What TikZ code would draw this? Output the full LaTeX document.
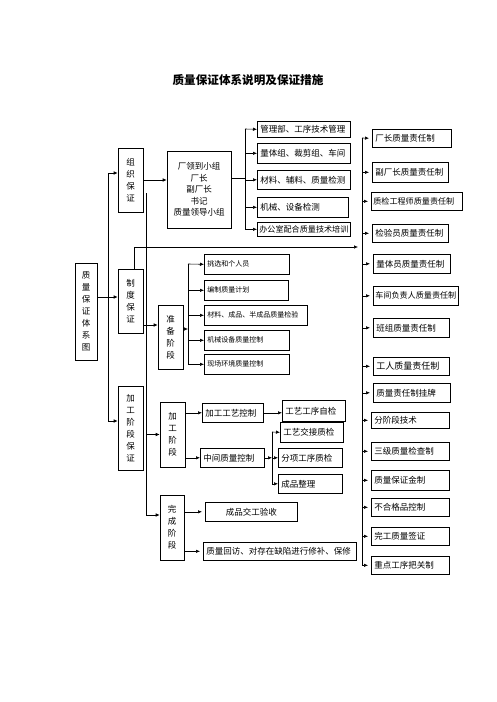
\documentclass[tikz,border=0pt]{standalone}
\usepackage{fontspec}
\setmainfont{Noto Sans CJK SC}
\usetikzlibrary{arrows.meta}

\begin{document}
\begin{tikzpicture}[
  x=1pt, y=-1pt,
  box/.style={draw, line width=0.6pt, inner ysep=0pt, font=\fontsize{8.5}{10}\selectfont},
  lbox/.style={box, anchor=north west, align=left, inner xsep=3pt},
  cbox/.style={box, anchor=north west, align=center, inner xsep=0pt},
  vbox/.style={box, align=center, inner xsep=0pt, font=\fontsize{8.5}{12}\selectfont},
  small/.style={font=\fontsize{7}{9}\selectfont},
  tight/.style={font=\fontsize{8.1}{10}\selectfont, inner xsep=2pt},
  line/.style={line width=0.6pt},
  arrow/.style={-{Latex[length=4pt,width=3.5pt]}, line width=0.6pt},
  rarrow/.style={arrow, shorten >=3pt}
]
  \useasboundingbox (0,0) rectangle (496,702);

  \node[font=\bfseries\fontsize{11.6}{12}\selectfont] (title) at (248,80) {质量保证体系说明及保证措施};

  \node[vbox, minimum width=22, minimum height=97] (tixi) at (86,311.5) {质\\量\\保\\证\\体\\系\\图};
  \node[vbox, minimum width=25, minimum height=64] (zuzhi) at (130.5,180) {组\\织\\保\\证};
  \node[vbox, minimum width=25, minimum height=64] (zhidu) at (130.5,301) {制\\度\\保\\证};
  \node[vbox, minimum width=25, minimum height=84] (jgbz) at (130.5,428) {加\\工\\阶\\段\\保\\证};

  \node[vbox, font=\fontsize{8.5}{11.5}\selectfont, minimum width=64, minimum height=77] (lingdao) at (199,189.5)
    {厂领到小组\\厂长\\副厂长\\书记\\质量领导小组};
  \node[vbox, minimum width=25, minimum height=64] (zhunbei) at (170.5,337) {准\\备\\阶\\段};
  \node[vbox, minimum width=25, minimum height=65] (jgjd) at (172.5,434.5) {加\\工\\阶\\段};
  \node[vbox, minimum width=24, minimum height=65] (wancheng) at (172,527.5) {完\\成\\阶\\段};

  \node[lbox, text width=87, minimum height=16] (g1) at (257,121) {管理部、工序技术管理};
  \node[lbox, text width=87, minimum height=20] (g2) at (257,143) {量体组、裁剪组、车间};
  \node[lbox, text width=87, minimum height=19] (g3) at (257,170) {材料、辅料、质量检测};
  \node[lbox, text width=85, minimum height=20] (g4) at (257,197) {机械、设备检测};
  \node[lbox, tight, text width=89, minimum height=14] (g5) at (257,222) {办公室配合质量技术培训};

  \node[lbox, small, text width=79, minimum height=20] (p1) at (204,254) {挑选和个人员};
  \node[lbox, small, text width=78, minimum height=20] (p2) at (204,280) {编制质量计划};
  \node[lbox, small, text width=97, minimum height=20] (p3) at (204,305) {材料、成品、半成品质量检验};
  \node[lbox, small, text width=79, minimum height=20] (p4) at (204,330) {机械设备质量控制};
  \node[lbox, small, text width=79, minimum height=20] (p5) at (204,354) {现场环境质量控制};

  \node[lbox, text width=55, minimum height=19] (k1) at (202,403) {加工工艺控制};
  \node[lbox, text width=58, minimum height=19] (k2) at (200,448) {中间质量控制};
  \node[lbox, text width=57, minimum height=21] (k3) at (282,400) {工艺工序自检};
  \node[lbox, text width=57, minimum height=20] (k4) at (280,422) {工艺交接质检};
  \node[lbox, text width=58, minimum height=19] (k5) at (278,448) {分项工序质检};
  \node[lbox, text width=58, minimum height=19] (k6) at (278,474) {成品整理};

  \node[cbox, text width=92, minimum height=19] (w1) at (205,502) {成品交工验收};
  \node[lbox, text width=147, minimum height=18] (w2) at (203,542) {质量回访、对存在缺陷进行修补、保修};

  \node[lbox, text width=73, minimum height=18] (r1) at (372,129) {厂长质量责任制};
  \node[lbox, text width=70, minimum height=20] (r2) at (372,162) {副厂长质量责任制};
  \node[lbox, tight, text width=87, minimum height=18] (r3) at (371,192) {质检工程师质量责任制};
  \node[lbox, text width=70, minimum height=18] (r4) at (372,224) {检验员质量责任制};
  \node[lbox, text width=71, minimum height=19] (r5) at (373,254) {量体员质量责任制};
  \node[lbox, tight, text width=81, minimum height=19] (r6) at (373,286) {车间负责人质量责任制};
  \node[lbox, text width=70, minimum height=19] (r7) at (373,318) {班组质量责任制};
  \node[lbox, text width=70, minimum height=18, font=\fontsize{9}{10}\selectfont] (r8) at (373,357) {工人质量责任制};
  \node[lbox, text width=71, minimum height=19] (r9) at (373,383) {质量责任制挂牌};
  \node[lbox, text width=72, minimum height=16] (r10) at (371,412) {分阶段技术};
  \node[lbox, text width=72, minimum height=18] (r11) at (371,442) {三级质量检查制};
  \node[lbox, text width=72, minimum height=20] (r12) at (371,470) {质量保证金制};
  \node[lbox, text width=72, minimum height=18] (r13) at (371,498) {不合格品控制};
  \node[lbox, text width=72, minimum height=18] (r14) at (371,527) {完工质量签证};
  \node[lbox, text width=72, minimum height=18] (r15) at (371,556) {重点工序把关制};

  \coordinate (lspine) at (108,173);
  \coordinate (lend) at (108,421);
  \coordinate (cspine) at (146,193);
  \coordinate (cend) at (146,515);
  \coordinate (gspine) at (245,129);
  \coordinate (pspine) at (188,264);
  \coordinate (kspine) at (272,432);
  \coordinate (rspine) at (362,138);
  \coordinate (zdin) at (362,247);

  \draw[line] (lspine) -- (lend);
  \draw[arrow] (lspine) -- (lspine -| zuzhi.west);
  \draw[arrow] (lend) -- (lend -| jgbz.west);
  \draw[arrow] ([yshift=14.5pt]tixi.east) -- ([yshift=14.5pt]tixi.east -| zhidu.west);

  \draw[arrow] (zuzhi.east) -- (zuzhi.east -| lingdao.west);
  \draw[line] ([yshift=11.5pt]lingdao.east) -- ([yshift=11.5pt]lingdao.east -| gspine);
  \draw[arrow] (gspine) |- (g5.west);
  \draw[arrow] (gspine) -- (g1.west);
  \draw[arrow] (gspine |- g2.west) -- (g2.west);
  \draw[arrow] (gspine |- g3.west) -- (g3.west);
  \draw[arrow] (gspine |- g4.west) -- (g4.west);

  \draw[line] (cspine) -- (cend);
  \draw[arrow] (cspine |- jgjd.west) -- (jgjd.west);
  \draw[arrow] (cend) -- (cend -| wancheng.west);

  \draw[rarrow, shorten >=4pt] ([xshift=3.5pt]zhidu.north) |- (zdin);
  \draw[arrow] ([yshift=12pt]zhunbei.west -| zhidu.east) -- ([yshift=12pt]zhunbei.west);
  \draw[arrow] ([yshift=8pt]zhunbei.east) -- ([yshift=8pt]zhunbei.east -| pspine);
  \draw[arrow] (pspine) |- (p5.west);
  \draw[arrow] (pspine) -- (p1.west);
  \draw[arrow] (pspine |- p2.west) -- (p2.west);
  \draw[arrow] (pspine |- p3.west) -- (p3.west);
  \draw[arrow] (pspine |- p4.west) -- (p4.west);

  \draw[arrow] (k1.west -| jgjd.east) -- (k1.west);
  \draw[arrow] (k2.west -| jgjd.east) -- (k2.west);
  \draw[arrow] (k1.east) -- (k1.east -| k3.west);
  \draw[arrow] (k2.east) -- (k2.east -| kspine);
  \draw[arrow] (kspine) |- (k6.west);
  \draw[arrow] (kspine) -- (k4.west);
  \draw[arrow] (kspine |- k5.west) -- (k5.west);

  \draw[rarrow] (w1.west -| wancheng.east) -- (w1.west);
  \draw[rarrow] (w2.west -| wancheng.east) -- (w2.west);

  \draw[rarrow] (rspine) |- (r15.west);
  \draw[rarrow] (rspine) -- (r1.west);
  \draw[rarrow] (rspine |- r2.west) -- (r2.west);
  \draw[rarrow] (rspine |- r3.west) -- (r3.west);
  \draw[rarrow] (rspine |- r4.west) -- (r4.west);
  \draw[rarrow] (rspine |- r5.west) -- (r5.west);
  \draw[rarrow] (rspine |- r6.west) -- (r6.west);
  \draw[rarrow] (rspine |- r7.west) -- (r7.west);
  \draw[rarrow] (rspine |- r8.west) -- (r8.west);
  \draw[rarrow] (rspine |- r9.west) -- (r9.west);
  \draw[rarrow] (rspine |- r10.west) -- (r10.west);
  \draw[rarrow] (rspine |- r11.west) -- (r11.west);
  \draw[rarrow] (rspine |- r12.west) -- (r12.west);
  \draw[rarrow] (rspine |- r13.west) -- (r13.west);
  \draw[rarrow] (rspine |- r14.west) -- (r14.west);
\end{tikzpicture}
\end{document}
